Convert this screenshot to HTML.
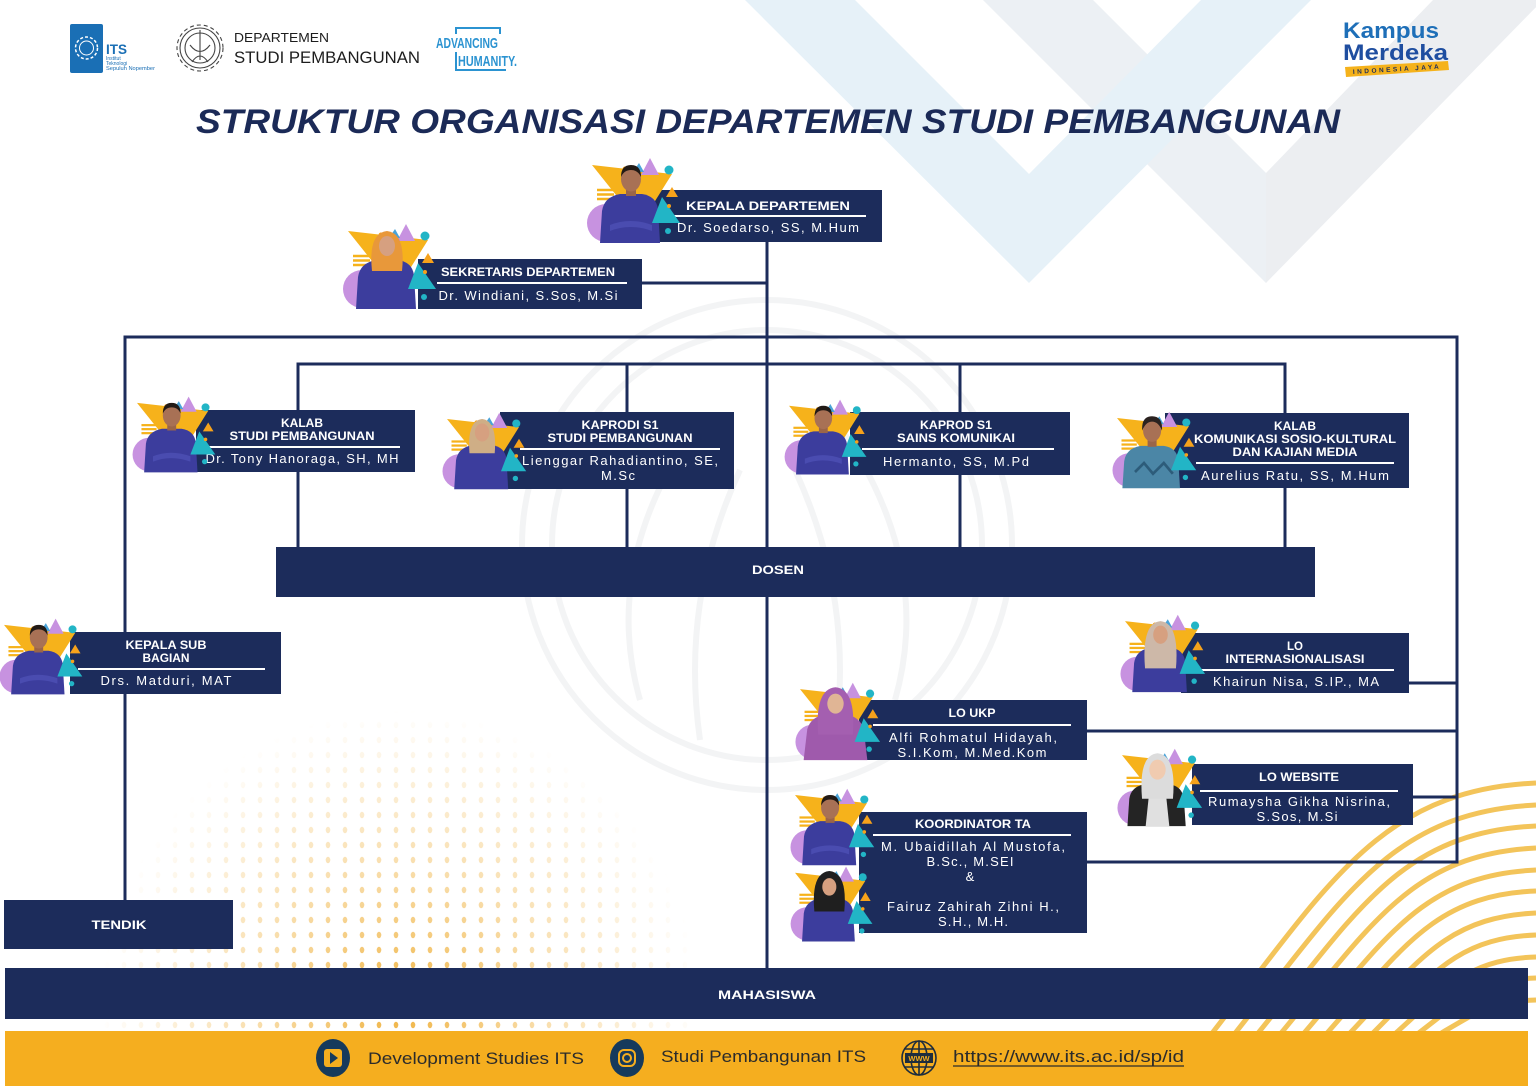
<!DOCTYPE html>
<html><head><meta charset="utf-8"><style>
html,body{margin:0;padding:0;background:#fff;}
svg{display:block;}
text{font-family:"Liberation Sans",sans-serif;}
.t{fill:#fff;font-weight:bold;font-size:11.5px;}
.n{fill:#fff;font-size:13px;}
</style></head><body>
<svg width="1536" height="1086" viewBox="0 0 1536 1086" xmlns="http://www.w3.org/2000/svg">
<defs>
<pattern id="dots" width="17" height="15" patternUnits="userSpaceOnUse"><ellipse cx="5" cy="5" rx="2.3" ry="3.2" fill="#efb03a"/></pattern>
<radialGradient id="dg" cx="400" cy="1010" r="300" gradientUnits="userSpaceOnUse"><stop offset="0" stop-color="#fff" stop-opacity="0.95"/><stop offset="0.5" stop-color="#fff" stop-opacity="0.4"/><stop offset="1" stop-color="#fff" stop-opacity="0"/></radialGradient>
<mask id="dm"><rect x="0" y="700" width="900" height="386" fill="url(#dg)"/></mask>
<g id="deco">
<polygon points="0,10 80,19 48,70" fill="#f6b21b"/>
<circle cx="14" cy="68" r="19" fill="#c792e0"/>
<polygon points="49,20 58,3 67,20" fill="#c792e0"/>
<polygon points="41,17 47,8 52,17" fill="#4aa3d8"/>
<circle cx="77" cy="15" r="4.5" fill="#22b5c6"/>
<circle cx="33" cy="14" r="2.5" fill="#f6a21b"/>
<g stroke="#f6b21b" stroke-width="2.5"><line x1="5" y1="35" x2="22" y2="35"/><line x1="5" y1="39.5" x2="22" y2="39.5"/><line x1="5" y1="44" x2="22" y2="44"/></g>
</g>
<g id="decoF">
<polygon points="60,68 70,42 88,68" fill="#22b5c6"/>
<polygon points="74,42 80,32 86,42" fill="#f6a21b"/>
<circle cx="77" cy="51" r="2" fill="#f6a21b"/>
<circle cx="76" cy="76" r="3" fill="#22b5c6"/>
</g>
<g id="male">
<path d="M8,88 L10,56 Q12,42 28,39 L50,39 Q64,41 66,54 L68,88 Z" fill="#3c3d9d"/>
<path d="M18,70 Q38,62 60,70 L60,76 Q38,68 18,76Z" fill="#4a4cb0"/>
<rect x="34" y="32" width="10" height="9" fill="#9a6549"/>
<ellipse cx="39" cy="24" rx="10" ry="12.5" fill="#a87155"/>
<path d="M29,22 Q29,10 39,10 Q49,10 49,22 Q46,15 39,15 Q32,15 29,22Z" fill="#221a16"/>
</g>
</defs>

<!-- background chevrons -->
<polygon points="983,0 1093,0 1266,173 1266,283" fill="#ecf0f4"/>
<polygon points="1266,173 1433,0 1543,0 1266,283" fill="#eceef1"/>
<polygon points="745,0 855,0 1029,174 1201,0 1311,0 1029,283" fill="#e6f1f8"/>

<!-- gear watermark -->
<g fill="none" stroke="#f3f4f5" stroke-width="6">
<circle cx="767" cy="545" r="245"/>
<circle cx="767" cy="545" r="215"/>
<path d="M640,700 Q600,560 700,420 M895,700 Q935,560 835,420 M700,740 Q680,600 740,470 M835,740 Q855,600 795,470"/>
</g>

<!-- halftone dots -->
<rect x="0" y="700" width="900" height="386" fill="url(#dots)" mask="url(#dm)"/>

<!-- yellow waves -->
<g fill="none" stroke="#f3c45a" stroke-width="5">
<path d="M1213,1040 L1213,1032 C1329,883 1381,790 1536,783"/>
<path d="M1236,1040 L1236,1032 C1344,896 1392,812 1536,805"/>
<path d="M1259,1040 L1259,1032 C1359,908 1403,832 1536,826"/>
<path d="M1282,1040 L1282,1032 C1373,922 1414,854 1536,848"/>
<path d="M1305,1040 L1305,1032 C1388,935 1425,875 1536,870"/>
<path d="M1328,1040 L1328,1032 C1403,947 1436,895 1536,891"/>
<path d="M1351,1040 L1351,1032 C1418,961 1447,917 1536,913"/>
<path d="M1374,1040 L1374,1032 C1432,974 1458,938 1536,935"/>
<path d="M1397,1040 L1397,1032 C1447,987 1469,959 1536,957"/>
<path d="M1420,1040 L1420,1032 C1462,1000 1480,980 1536,978"/>
<path d="M1443,1040 L1443,1032 C1476,1013 1491,1001 1536,1000"/>
</g>

<!-- header logos -->
<rect x="70" y="24" width="33" height="49" rx="2" fill="#1a6fb5"/>
<circle cx="86.5" cy="48" r="11" fill="none" stroke="#fff" stroke-width="1.5" stroke-dasharray="3 2"/>
<circle cx="86.5" cy="48" r="7" fill="none" stroke="#fff" stroke-width="1"/>
<text x="106" y="54" font-size="14" font-weight="bold" fill="#1a6fb5" textLength="21" lengthAdjust="spacingAndGlyphs">ITS</text>
<text x="106" y="60" font-size="5" fill="#1a6fb5">Institut</text>
<text x="106" y="65" font-size="5" fill="#1a6fb5">Teknologi</text>
<text x="106" y="70" font-size="5" fill="#1a6fb5" textLength="49" lengthAdjust="spacingAndGlyphs">Sepuluh Nopember</text>

<g fill="none" stroke="#444" stroke-width="1.1">
<circle cx="200" cy="48" r="23" stroke-dasharray="4 3"/>
<circle cx="200" cy="48" r="20"/>
<circle cx="200" cy="48" r="15"/>
<path d="M200,30 V60 M192,62 Q200,50 208,62 M190,45 Q200,58 210,45"/>
</g>
<text x="234" y="42" font-size="13" fill="#1d1d1d" textLength="95" lengthAdjust="spacingAndGlyphs">DEPARTEMEN</text>
<text x="234" y="63" font-size="16.5" fill="#1d1d1d" textLength="186" lengthAdjust="spacingAndGlyphs">STUDI PEMBANGUNAN</text>

<text x="436" y="48" font-size="15" font-weight="bold" fill="#2b93d1" textLength="62" lengthAdjust="spacingAndGlyphs">ADVANCING</text>
<text x="458" y="66" font-size="15" font-weight="bold" fill="#2b93d1" textLength="59" lengthAdjust="spacingAndGlyphs">HUMANITY.</text>
<path d="M456,34 V28 H500 V34 M456,52 V70 H506" fill="none" stroke="#2b93d1" stroke-width="2"/>

<text x="1343" y="38" font-size="22" font-weight="bold" fill="#1e6fb8" textLength="96" lengthAdjust="spacingAndGlyphs">Kampus</text>
<text x="1343" y="60" font-size="22" font-weight="bold" fill="#1f4ea0" textLength="105" lengthAdjust="spacingAndGlyphs">Merdeka</text>
<polygon points="1345,67 1448,61 1449,70 1346,77" fill="#f5b21b"/>
<text x="1353" y="74" font-size="6.5" font-weight="bold" fill="#1c2c5b" transform="rotate(-3.5 1353 74)" textLength="86" lengthAdjust="spacing">INDONESIA JAYA</text>

<!-- title -->
<text x="196" y="133" font-size="34" font-weight="bold" font-style="italic" fill="#1b2a57" textLength="1144" lengthAdjust="spacingAndGlyphs">STRUKTUR ORGANISASI DEPARTEMEN STUDI PEMBANGUNAN</text>

<!-- connectors -->
<g stroke="#1c2c5b" stroke-width="3" fill="none" stroke-linecap="square">
<path d="M767,242 V968"/>
<path d="M642,283 H767"/>
<path d="M125,337 H1457 M125,337 V900 M1457,337 V862"/>
<path d="M298,364 H1285 M298,364 V547 M627,364 V547 M960,364 V547 M1285,364 V547"/>
<path d="M1409,683 H1457 M1087,731 H1457 M1413,797 H1457 M1087,862 H1457"/>
</g>

<!-- boxes -->
<g fill="#1c2c5b">
<rect x="654" y="190" width="228" height="52"/>
<rect x="418" y="259" width="224" height="50"/>
<rect x="196" y="410" width="219" height="62"/>
<rect x="500" y="412" width="234" height="77"/>
<rect x="850" y="412" width="220" height="63"/>
<rect x="1165" y="413" width="244" height="75"/>
<rect x="276" y="547" width="1039" height="50"/>
<rect x="70" y="632" width="211" height="62"/>
<rect x="1181" y="633" width="228" height="60"/>
<rect x="859" y="700" width="228" height="60"/>
<rect x="1192" y="764" width="221" height="61"/>
<rect x="859" y="812" width="228" height="121"/>
<rect x="4" y="900" width="229" height="49"/>
<rect x="5" y="968" width="1523" height="51"/>
</g>

<!-- separators -->
<g stroke="#fff" stroke-width="2">
<line x1="669" y1="216" x2="866" y2="216"/>
<line x1="437" y1="283" x2="627" y2="283"/>
<line x1="207" y1="447" x2="400" y2="447"/>
<line x1="520" y1="449" x2="720" y2="449"/>
<line x1="862" y1="449" x2="1054" y2="449"/>
<line x1="1196" y1="463" x2="1394" y2="463"/>
<line x1="78" y1="669" x2="265" y2="669"/>
<line x1="1197" y1="670" x2="1394" y2="670"/>
<line x1="873" y1="725" x2="1071" y2="725"/>
<line x1="1200" y1="791" x2="1398" y2="791"/>
<line x1="873" y1="835" x2="1071" y2="835"/>
</g>

<!-- box texts -->
<g text-anchor="middle">
<text class="t" x="768" y="210" font-size="12.5" textLength="164" lengthAdjust="spacingAndGlyphs">KEPALA DEPARTEMEN</text>
<text class="n" x="768" y="232" textLength="182">Dr. Soedarso, SS, M.Hum</text>

<text class="t" x="528" y="276" textLength="174" lengthAdjust="spacingAndGlyphs">SEKRETARIS DEPARTEMEN</text>
<text class="n" x="528" y="300" textLength="179">Dr. Windiani, S.Sos, M.Si</text>

<text class="t" x="302" y="427" textLength="42" lengthAdjust="spacingAndGlyphs">KALAB</text>
<text class="t" x="302" y="440" textLength="145" lengthAdjust="spacingAndGlyphs">STUDI PEMBANGUNAN</text>
<text class="n" x="302" y="463" textLength="193">Dr. Tony Hanoraga, SH, MH</text>

<text class="t" x="620" y="429" textLength="77" lengthAdjust="spacingAndGlyphs">KAPRODI S1</text>
<text class="t" x="620" y="442" textLength="145" lengthAdjust="spacingAndGlyphs">STUDI PEMBANGUNAN</text>
<text class="n" x="620" y="465" textLength="196">Lienggar Rahadiantino, SE,</text>
<text class="n" x="618" y="480" textLength="34">M.Sc</text>

<text class="t" x="956" y="429" textLength="72" lengthAdjust="spacingAndGlyphs">KAPROD S1</text>
<text class="t" x="956" y="442" textLength="118" lengthAdjust="spacingAndGlyphs">SAINS KOMUNIKAI</text>
<text class="n" x="956" y="466" textLength="146">Hermanto, SS, M.Pd</text>

<text class="t" x="1295" y="430" textLength="42" lengthAdjust="spacingAndGlyphs">KALAB</text>
<text class="t" x="1295" y="443" textLength="202" lengthAdjust="spacingAndGlyphs">KOMUNIKASI SOSIO-KULTURAL</text>
<text class="t" x="1295" y="456" textLength="125" lengthAdjust="spacingAndGlyphs">DAN KAJIAN MEDIA</text>
<text class="n" x="1295" y="480" textLength="188">Aurelius Ratu, SS, M.Hum</text>

<text class="t" x="778" y="574" font-size="13" textLength="52" lengthAdjust="spacingAndGlyphs">DOSEN</text>

<text class="t" x="166" y="649" textLength="81" lengthAdjust="spacingAndGlyphs">KEPALA SUB</text>
<text class="t" x="166" y="662" textLength="47" lengthAdjust="spacingAndGlyphs">BAGIAN</text>
<text class="n" x="166" y="685" textLength="131">Drs. Matduri, MAT</text>

<text class="t" x="1295" y="650" textLength="16" lengthAdjust="spacingAndGlyphs">LO</text>
<text class="t" x="1295" y="663" textLength="139" lengthAdjust="spacingAndGlyphs">INTERNASIONALISASI</text>
<text class="n" x="1296" y="686" textLength="166">Khairun Nisa, S.IP., MA</text>

<text class="t" x="972" y="717" textLength="47" lengthAdjust="spacingAndGlyphs">LO UKP</text>
<text class="n" x="973" y="742" textLength="168">Alfi Rohmatul Hidayah,</text>
<text class="n" x="972" y="757" textLength="149">S.I.Kom, M.Med.Kom</text>

<text class="t" x="1299" y="781" textLength="80" lengthAdjust="spacingAndGlyphs">LO WEBSITE</text>
<text class="n" x="1299" y="806" textLength="182">Rumaysha Gikha Nisrina,</text>
<text class="n" x="1297" y="821" textLength="81">S.Sos, M.Si</text>

<text class="t" x="973" y="828" textLength="116" lengthAdjust="spacingAndGlyphs">KOORDINATOR TA</text>
<text class="n" x="973" y="851" textLength="184">M. Ubaidillah Al Mustofa,</text>
<text class="n" x="970" y="866" textLength="87">B.Sc., M.SEI</text>
<text class="n" x="970" y="881">&amp;</text>
<text class="n" x="973" y="911" textLength="172">Fairuz Zahirah Zihni H.,</text>
<text class="n" x="973" y="926" textLength="70">S.H., M.H.</text>

<text class="t" x="119" y="929" font-size="13" textLength="55" lengthAdjust="spacingAndGlyphs">TENDIK</text>
<text class="t" x="767" y="999" font-size="13" textLength="98" lengthAdjust="spacingAndGlyphs">MAHASISWA</text>
</g>

<!-- photo decorations -->
<g transform="translate(592,155)"><use href="#deco"/><use href="#male"/><use href="#decoF"/></g>
<g transform="translate(348,221)"><use href="#deco"/>
<path d="M8,88 L10,56 Q12,42 28,39 L50,39 Q64,41 66,54 L68,88 Z" fill="#3c3d9d"/>
<path d="M24,50 Q20,12 39,10 Q58,12 54,50 Z" fill="#e8983a"/>
<ellipse cx="39" cy="25" rx="8" ry="10" fill="#d6a080"/>
<use href="#decoF"/></g>
<g transform="translate(137,394) scale(0.89)"><use href="#deco"/><use href="#male"/><use href="#decoF"/></g>
<g transform="translate(447,410) scale(0.9)"><use href="#deco"/>
<path d="M8,88 L10,56 Q12,42 28,39 L50,39 Q64,41 66,54 L68,88 Z" fill="#3c3d9d"/>
<path d="M25,48 Q22,12 39,10 Q56,12 53,48 Z" fill="#cfae86"/>
<ellipse cx="39" cy="25" rx="8" ry="10" fill="#d6a080"/>
<use href="#decoF"/></g>
<g transform="translate(789,397) scale(0.88)"><use href="#deco"/><use href="#male"/><use href="#decoF"/></g>
<g transform="translate(1117,409) scale(0.9)"><use href="#deco"/>
<path d="M6,88 L8,58 Q10,44 26,41 L52,41 Q66,43 68,56 L70,88 Z" fill="#4b86a6"/>
<path d="M20,70 L30,60 L40,72 L52,60 L62,72" fill="none" stroke="#2d5c7a" stroke-width="3"/>
<rect x="34" y="33" width="10" height="9" fill="#9a6549"/>
<ellipse cx="39" cy="24" rx="10" ry="12.5" fill="#a87155"/>
<path d="M28,24 Q27,8 39,8 Q51,8 50,24 Q46,14 39,14 Q32,14 28,24Z" fill="#2a2220"/>
<use href="#decoF"/></g>
<g transform="translate(4,616) scale(0.89)"><use href="#deco"/><use href="#male"/><use href="#decoF"/></g>
<g transform="translate(1125,612) scale(0.91)"><use href="#deco"/>
<path d="M8,88 L10,56 Q12,42 28,39 L50,39 Q64,41 66,54 L68,88 Z" fill="#3c3d9d"/>
<path d="M22,62 Q18,12 39,10 Q60,12 56,62 Z" fill="#cdb8a8"/>
<ellipse cx="39" cy="25" rx="8" ry="10" fill="#d6a080"/>
<use href="#decoF"/></g>
<g transform="translate(800,680) scale(0.91)"><use href="#deco"/>
<path d="M4,88 L8,54 Q12,40 28,38 L50,38 Q66,40 70,54 L74,88 Z" fill="#9f5aac"/>
<path d="M20,60 Q16,10 39,8 Q62,10 58,60 Z" fill="#a45fb0"/>
<ellipse cx="39" cy="26" rx="9" ry="11" fill="#e0b595"/>
<use href="#decoF"/></g>
<g transform="translate(1122,746) scale(0.91)"><use href="#deco"/>
<path d="M6,88 L8,58 Q10,44 26,42 L52,42 Q66,44 68,58 L70,88 Z" fill="#242424"/>
<path d="M26,88 L30,50 L48,50 L52,88Z" fill="#e0e0e0"/>
<path d="M22,58 Q18,10 39,8 Q60,10 56,58 Z" fill="#dcdcdc"/>
<ellipse cx="39" cy="26" rx="9" ry="11" fill="#f0cbb0"/>
<use href="#decoF"/></g>
<g transform="translate(795,786) scale(0.9)"><use href="#deco"/><use href="#male"/><use href="#decoF"/></g>
<g transform="translate(795,864) scale(0.88)"><use href="#deco"/>
<path d="M8,88 L10,56 Q12,42 28,39 L50,39 Q64,41 66,54 L68,88 Z" fill="#3c3d9d"/>
<path d="M22,54 Q18,10 39,8 Q60,10 56,54 Z" fill="#1f1f1f"/>
<ellipse cx="39" cy="26" rx="8" ry="10" fill="#d6a080"/>
<use href="#decoF"/></g>

<!-- footer -->
<rect x="5" y="1031" width="1523" height="55" fill="#f5ae1f"/>
<ellipse cx="333" cy="1058" rx="17" ry="19" fill="#163a5c"/>
<rect x="324" y="1049" width="18" height="18" rx="3" fill="#f5ae1f"/>
<polygon points="330,1052 338,1058 330,1064" fill="#163a5c"/>
<text x="368" y="1064" font-size="17" fill="#2b2b2b" textLength="216" lengthAdjust="spacingAndGlyphs">Development Studies ITS</text>

<ellipse cx="627" cy="1058" rx="17" ry="19" fill="#163a5c"/>
<rect x="619" y="1050" width="16" height="16" rx="5" fill="none" stroke="#f5ae1f" stroke-width="2"/>
<circle cx="627" cy="1058" r="4" fill="none" stroke="#f5ae1f" stroke-width="2"/>
<text x="661" y="1062" font-size="17" fill="#2b2b2b" textLength="205" lengthAdjust="spacingAndGlyphs">Studi Pembangunan ITS</text>

<g fill="none" stroke="#1e2d3d" stroke-width="1.6">
<circle cx="919" cy="1058" r="17"/>
<ellipse cx="919" cy="1058" rx="8" ry="17"/>
<line x1="919" y1="1041" x2="919" y2="1075"/>
<line x1="904" y1="1049" x2="934" y2="1049"/>
<line x1="904" y1="1067" x2="934" y2="1067"/>
</g>
<rect x="905" y="1053" width="28" height="10" fill="#1e2d3d"/>
<text x="919" y="1061" font-size="7.5" font-weight="bold" fill="#f5ae1f" text-anchor="middle">WWW</text>
<text x="953" y="1062" font-size="17" fill="#2b2b2b" textLength="231" lengthAdjust="spacingAndGlyphs">https://www.its.ac.id/sp/id</text>
<line x1="953" y1="1066" x2="1184" y2="1066" stroke="#2b2b2b" stroke-width="1.3"/>
</svg>
</body></html>
